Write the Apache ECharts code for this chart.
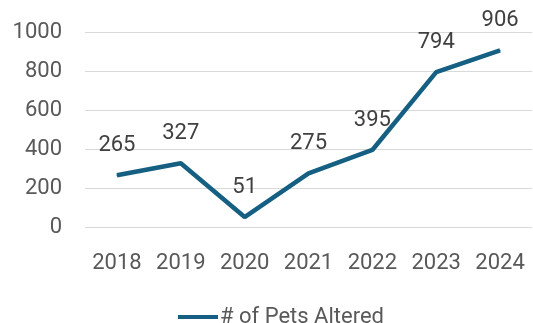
<!DOCTYPE html>
<html>
<head>
<meta charset="utf-8">
<script src="https://cdn.jsdelivr.net/npm/echarts@6/dist/echarts.min.js"></script>
<style>
    html, body { margin: 0; padding: 0; background: #fff; }
    #chart { width: 533px; height: 323px; }
</style>
</head>
<body>
<div id="chart"></div>
<script type="text/javascript">
    // data
    var years = ['2018', '2019', '2020', '2021', '2022', '2023', '2024'];
    var petsAltered = [265, 327, 51, 275, 395, 794, 906];
    var seriesName = '# of Pets Altered';

    var myChart = echarts.init(document.getElementById('chart'));
    var option = {
        backgroundColor: '#fff',
        animation: false,
        textStyle: { fontFamily: 'Roboto' },
        grid: {
            left: 85,
            right: 1,
            top: 32,
            bottom: 96
        },
        legend: {
            data: [{ name: seriesName, icon: 'rect' }],
            top: 301,
            left: 173,
            itemWidth: 40,
            itemHeight: 4,
            itemGap: 10,
            textStyle: {
                color: '#595959',
                fontSize: 22,
                padding: [0, 0, 0, -3]
            }
        },
        xAxis: {
            type: 'category',
            data: years,
            boundaryGap: true,
            axisLine: { show: false },
            axisTick: { show: false },
            axisLabel: {
                color: '#595959',
                fontSize: 22,
                margin: 25,
                interval: 0,
                hideOverlap: false
            }
        },
        yAxis: {
            type: 'value',
            min: 0,
            max: 1000,
            interval: 200,
            axisLine: { show: false },
            axisTick: { show: false },
            splitLine: { lineStyle: { color: '#d9d9d9', width: 1 } },
            axisLabel: {
                color: '#595959',
                fontSize: 22,
                margin: 23,
                formatter: function (v) { return String(v); }
            }
        },
        series: [{
            name: seriesName,
            type: 'line',
            data: petsAltered,
            symbol: 'circle',
            symbolSize: 1,
            showSymbol: true,
            lineStyle: { color: '#156082', width: 4.5 },
            itemStyle: { color: '#156082' },
            label: {
                show: true,
                position: 'top',
                distance: 18,
                color: '#404040',
                fontSize: 22
            }
        }]
    };
    myChart.setOption(option);
</script>
</body>
</html>
